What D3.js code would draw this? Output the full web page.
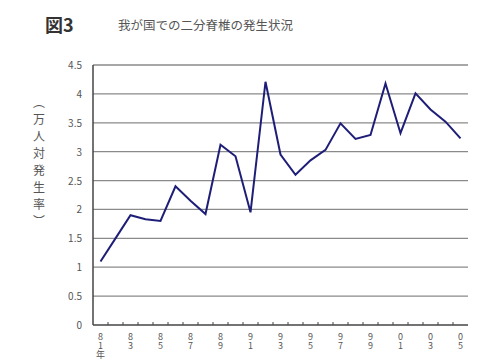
<!DOCTYPE html>
<html>
<head>
<meta charset="utf-8">
<script src="https://cdn.jsdelivr.net/npm/d3@7"></script>
<style>
  body { margin: 0; background: #fff; }
  text { font-family: "Noto Sans CJK JP", "Noto Sans", sans-serif; }
</style>
</head>
<body>
<div id="chart"></div>
<script>
// data
const years = d3.range(1981, 2006).map(String);
const rates = [1.10, 1.50, 1.90, 1.83, 1.80, 2.40, 2.15, 1.92, 3.12, 2.92, 1.95, 4.21, 2.95,
               2.60, 2.85, 3.03, 3.49, 3.22, 3.29, 4.18, 3.32, 4.01, 3.73, 3.52, 3.23];
const yTicks = [0, 0.5, 1, 1.5, 2, 2.5, 3, 3.5, 4, 4.5];
const xLabels = ["81年", "83", "85", "87", "89", "91", "93", "95", "97", "99", "01", "03", "05"];
const figNo = "図3";
const title = "我が国での二分脊椎の発生状況";
const yTitle = "（万人対発生率）";

const W = 479, H = 364;
const margin = { top: 65, right: 11, bottom: 39, left: 93 };
const width = W - margin.left - margin.right,
      height = H - margin.top - margin.bottom;

const svg = d3.select("#chart").append("svg")
    .attr("width", W).attr("height", H);

svg.append("text").attr("x", 45).attr("y", 32)
    .attr("font-size", 18).attr("font-weight", "bold").attr("fill", "#333")
    .text(figNo);
svg.append("text").attr("x", 118).attr("y", 30)
    .attr("font-size", 12.5).attr("fill", "#555")
    .text(title);

// y title, vertical
svg.append("text")
    .attr("x", 39).attr("y", 96)
    .style("writing-mode", "vertical-rl")
    .style("text-orientation", "upright")
    .style("letter-spacing", "5px")
    .attr("font-size", 12).attr("fill", "#555")
    .text(yTitle);

const g = svg.append("g").attr("transform", `translate(${margin.left},${margin.top})`);

const x = d3.scaleBand().domain(years).range([0, width]);
const y = d3.scaleLinear().domain([0, 4.5]).range([height, 0]);

// gridlines
g.append("g")
    .selectAll("line")
    .data(yTicks.filter(d => d > 0))
    .join("line")
    .attr("x1", 0).attr("x2", width)
    .attr("y1", d => y(d)).attr("y2", d => y(d))
    .attr("stroke", "#8a8a8a").attr("stroke-width", 1.3);

// y axis labels
g.append("g")
    .selectAll("text")
    .data(yTicks)
    .join("text")
    .attr("x", -11).attr("y", d => y(d) + 4)
    .attr("text-anchor", "end")
    .attr("font-size", 10).attr("fill", "#555")
    .text(d => d);

// axes lines
g.append("line").attr("x1", 0).attr("x2", 0).attr("y1", 0).attr("y2", height)
    .attr("stroke", "#444").attr("stroke-width", 1.5);
g.append("line").attr("x1", 0).attr("x2", width).attr("y1", height).attr("y2", height)
    .attr("stroke", "#444").attr("stroke-width", 1.5);

// bottom ticks at band boundaries, pointing inward
g.append("g")
    .selectAll("line")
    .data(years.slice(1))
    .join("line")
    .attr("x1", d => x(d)).attr("x2", d => x(d))
    .attr("y1", height).attr("y2", height - 3)
    .attr("stroke", "#444");

// x labels, every other year, stacked vertically
g.append("g")
    .selectAll("text")
    .data(xLabels)
    .join("text")
    .attr("x", (d, i) => x(years[i * 2]) + x.bandwidth() / 2)
    .attr("y", height + 7)
    .style("writing-mode", "vertical-rl")
    .style("text-orientation", "upright")
    .attr("font-size", 9).attr("fill", "#555")
    .text(d => d);

// line
const line = d3.line()
    .x((d, i) => x(years[i]) + x.bandwidth() / 2)
    .y(d => y(d));

g.append("path")
    .datum(rates)
    .attr("d", line)
    .attr("fill", "none")
    .attr("stroke", "#1e1e78")
    .attr("stroke-width", 2);
</script>
</body>
</html>
